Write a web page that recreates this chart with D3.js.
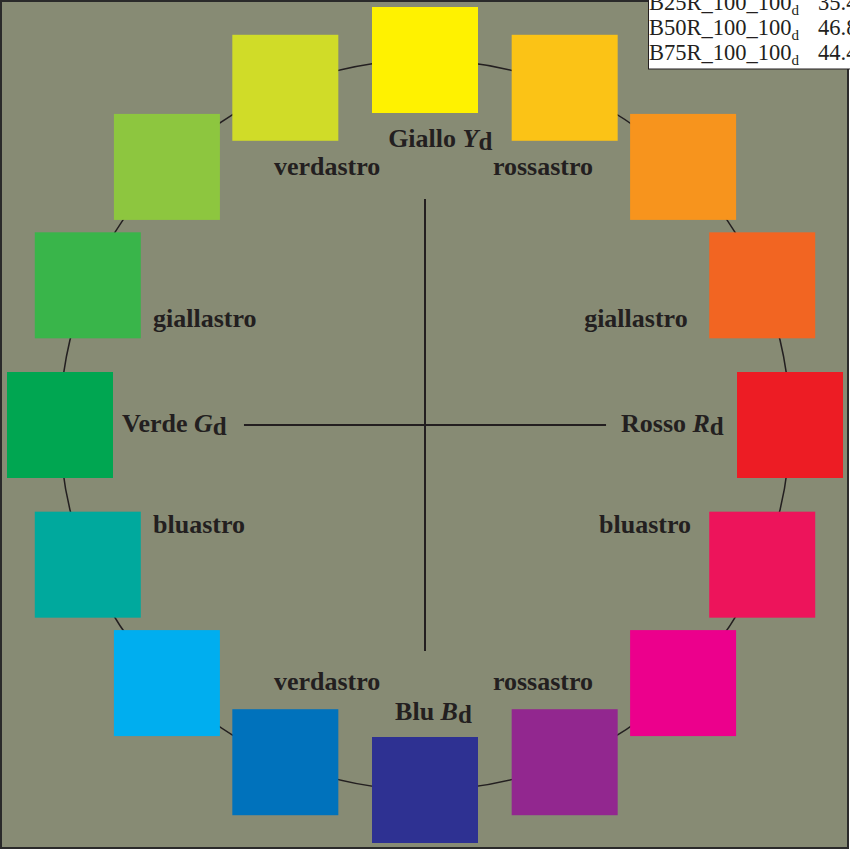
<!DOCTYPE html>
<html>
<head>
<meta charset="utf-8">
<script src="https://cdn.jsdelivr.net/npm/d3@7"></script>
<style>
  html, body { margin: 0; padding: 0; background: #fff; }
  svg { display: block; font-family: "Liberation Serif", "Times New Roman", serif; }
</style>
</head>
<body>
<div id="chart"></div>
<script>
// 16 hue steps, clockwise from yellow at the top
var hues = [
  '#fff200', '#fbc316', '#f7941d', '#f26522',
  '#ed1c24', '#ed145b', '#ec008c', '#92278f',
  '#2e3192', '#0072bc', '#00aeef', '#00a99d',
  '#00a651', '#39b54a', '#8dc63f', '#d0dc28'
]

// label text, subscripted letter and unit position (circle radius = 1)
var labelText = ['Giallo ', 'verdastro', 'rossastro', 'giallastro', 'giallastro', 'Verde ',
                 'Rosso ', 'bluastro', 'bluastro', 'verdastro', 'rossastro', 'Blu ']
var labelItal = ['Y', '', '', '', '', 'G', 'R', '', '', '', '', 'B']
var labelX = [-0.101, -0.414, 0.186, -0.745, 0.436, -0.830, 0.537, -0.745, 0.477, -0.414, 0.186, -0.082]
var labelY = [0.762, 0.685, 0.685, 0.268, 0.268, -0.019, -0.019, -0.296, -0.296, -0.726, -0.726, -0.808]

var tableNames = ['B25R_100_100', 'B50R_100_100', 'B75R_100_100']
var tableValues = ['35.4', '46.8', '44.4']

var width = 850, height = 851
var svg = d3.select('#chart').append('svg')
  .attr('width', width)
  .attr('height', height)

// frame
svg.append('rect')
  .attr('x', 1).attr('y', 1)
  .attr('width', 847).attr('height', 847)
  .attr('fill', '#878b74')
  .attr('stroke', '#2a2a2a')
  .attr('stroke-width', 2)

var x = d3.scaleLinear().domain([-1, 1]).range([60, 790])
var y = d3.scaleLinear().domain([-1, 1]).range([790, 60])
var angle = d3.scaleLinear().domain([0, hues.length]).range([0, 2 * Math.PI])
var side = 106

// circle through the square centres
svg.append('circle')
  .attr('cx', x(0)).attr('cy', y(0))
  .attr('r', x(1) - x(0))
  .attr('fill', 'none')
  .attr('stroke', '#231f20')
  .attr('stroke-width', 1.5)

// cross
svg.append('line')
  .attr('x1', x(0)).attr('x2', x(0))
  .attr('y1', y(0.619)).attr('y2', y(-0.619))
  .attr('stroke', '#231f20').attr('stroke-width', 2)
svg.append('line')
  .attr('x1', x(-0.496)).attr('x2', x(0.496))
  .attr('y1', y(0)).attr('y2', y(0))
  .attr('stroke', '#231f20').attr('stroke-width', 2)

// colour squares
svg.append('g').selectAll('rect')
  .data(hues)
  .enter()
  .append('rect')
  .attr('x', function (d, i) { return x(Math.sin(angle(i))) - side / 2 })
  .attr('y', function (d, i) { return y(Math.cos(angle(i))) - side / 2 })
  .attr('width', side)
  .attr('height', side)
  .attr('fill', function (d) { return d })

// labels
var labels = svg.append('g')
  .attr('font-size', 26)
  .attr('font-weight', 'bold')
  .attr('fill', '#231f20')
  .selectAll('text')
  .data(labelText)
  .enter()
  .append('text')
  .attr('x', function (d, i) { return x(labelX[i]) })
  .attr('y', function (d, i) { return y(labelY[i]) })

labels.append('tspan').text(function (d) { return d })
labels.each(function (d, i) {
  if (labelItal[i] === '') return
  var t = d3.select(this)
  t.append('tspan').attr('font-style', 'italic').text(labelItal[i])
  t.append('tspan').attr('dy', 3).attr('font-size', 25).text('d')
})

// partial table in the corner
var table = svg.append('g')
table.append('rect')
  .attr('x', 648.5).attr('y', -2)
  .attr('width', 220).attr('height', 71)
  .attr('fill', '#fff')
  .attr('stroke', '#231f20')
  .attr('stroke-width', 1)

var rows = table.selectAll('text')
  .data(tableNames)
  .enter()
  .append('text')
  .attr('x', 649)
  .attr('y', function (d, i) { return 10 + i * 25 })
  .attr('font-size', 22.5)
  .attr('fill', '#231f20')
rows.append('tspan').text(function (d) { return d })
rows.append('tspan').attr('dy', 5).attr('font-size', 15).text('d')
rows.append('tspan').attr('x', 818).attr('dy', -5).text(function (d, i) { return tableValues[i] })
</script>
</body>
</html>
